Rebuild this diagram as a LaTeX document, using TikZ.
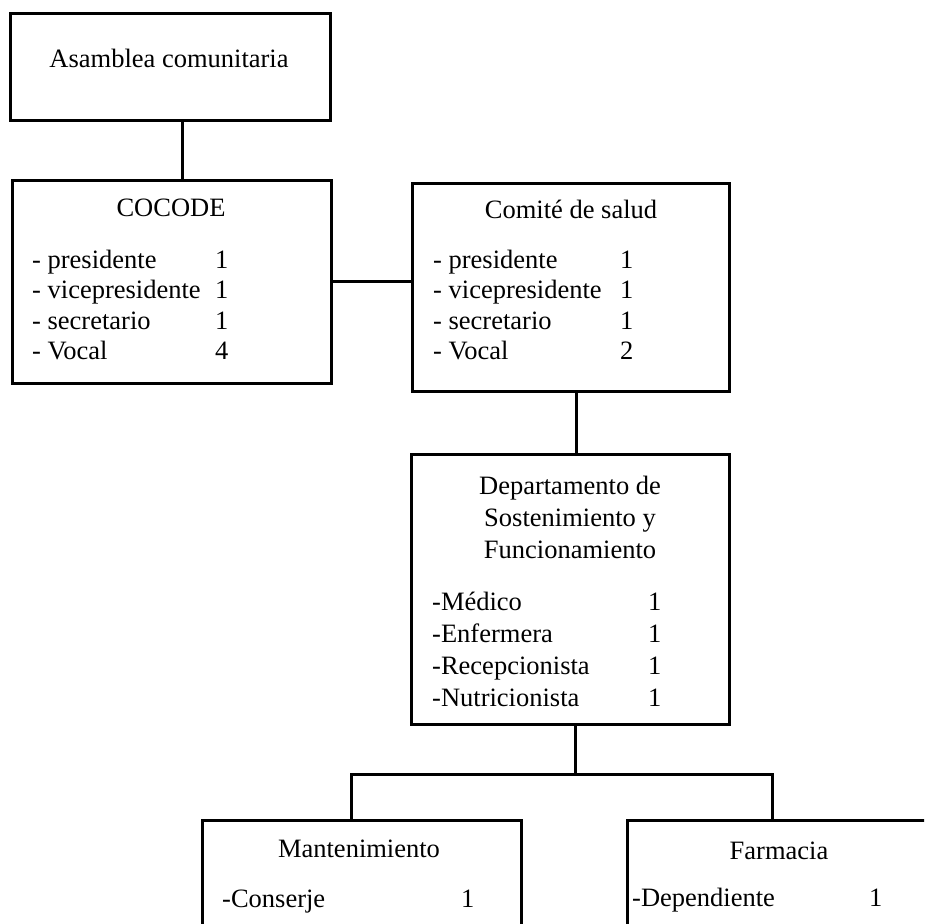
\documentclass[tikz,border=0pt]{standalone}
\usepackage{fontspec}
\setmainfont{Liberation Serif}
\usepackage{tikz}

\begin{document}
\begin{tikzpicture}[
    x=1pt, y=-1pt,
    unit/.style={rectangle, draw=black, line width=3pt, inner sep=0pt},
    unittitle/.style={font=\fontsize{26.5}{32}\selectfont, anchor=base, inner sep=0pt, align=center},
    roles/.style={font=\fontsize{26.5}{30.5}\selectfont, anchor=base west, inner sep=0pt},
    link/.style={line width=3pt}
]
\useasboundingbox (0,0) rectangle (924,924);
\clip (0,0) rectangle (924,924);

% Boxes
\node[unit, minimum width=320pt, minimum height=107pt] (asamblea) at (170,66.5) {};
\node[unit, minimum width=319pt, minimum height=203pt] (cocode) at (171.5,281.5) {};
\node[unit, minimum width=317pt, minimum height=208pt] (comite) at (570.5,287) {};
\node[unit, minimum width=318pt, minimum height=270pt] (depto) at (570,589) {};
\node[unit, minimum width=319pt, minimum height=140pt] (mant) at (361.5,890) {};
\node[unit, minimum width=303pt, minimum height=140pt] (farm) at (778.5,890) {};

% Titles
\node[unittitle] (asambleaT) at (169,67) {Asamblea comunitaria};
\node[unittitle] (cocodeT) at (171,216) {COCODE};
\node[unittitle] (comiteT) at (571,218) {Comité de salud};
\node[unittitle, anchor=north] (deptoT) at (570,476) {Departamento de\\Sostenimiento y\\Funcionamiento};
\node[unittitle] (mantT) at (359,857) {Mantenimiento};
\node[unittitle] (farmT) at (779,859) {Farmacia};

% Members
\node[roles] (cocodeL) at (32,268) {\begin{tabular}[t]{@{}p{183pt}@{}l@{}}
- presidente & 1\\ - vicepresidente & 1\\ - secretario & 1\\ - Vocal & 4\end{tabular}};
\node[roles] (comiteL) at (433,268) {\begin{tabular}[t]{@{}p{187pt}@{}l@{}}
- presidente & 1\\ - vicepresidente & 1\\ - secretario & 1\\ - Vocal & 2\end{tabular}};
\node[roles, font=\fontsize{26.5}{32}\selectfont] (deptoL) at (432,610) {\begin{tabular}[t]{@{}p{216pt}@{}l@{}}
-Médico & 1\\ -Enfermera & 1\\ -Recepcionista & 1\\ -Nutricionista & 1\end{tabular}};
\node[roles] (mantL) at (222,907) {\begin{tabular}[t]{@{}p{239pt}@{}l@{}}
-Conserje & 1\end{tabular}};
\node[roles] (farmL) at (632,906) {\begin{tabular}[t]{@{}p{237pt}@{}l@{}}
-Dependiente & 1\end{tabular}};

% Lines
\draw[link] ([xshift=12pt]asamblea.south) -- ([xshift=10.5pt]cocode.north);
\draw[link] (cocode.east) -- (cocode.east -| comite.west);
\draw[link] ([xshift=5.5pt]comite.south) -- ([xshift=6pt]depto.north);
\draw[link] ([xshift=5pt]depto.south) -- ++(0,49) coordinate (split);
\draw[link] (split) -| ([xshift=-10.5pt]mant.north);
\draw[link] (split) -| ([xshift=-6.5pt]farm.north);

\end{tikzpicture}
\end{document}
